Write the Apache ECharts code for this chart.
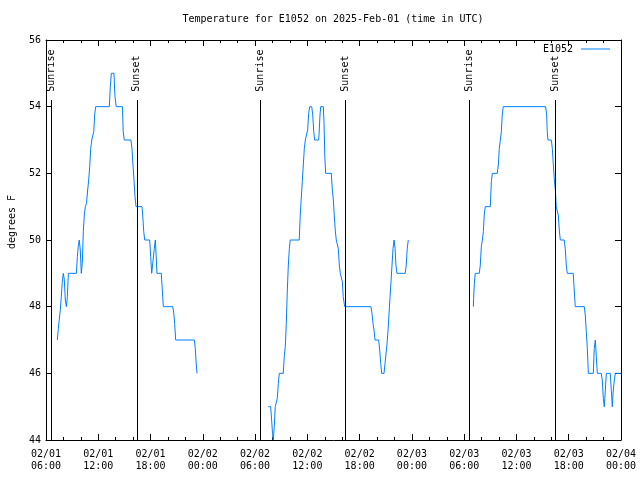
<!DOCTYPE html>
<html>
<head>
<meta charset="utf-8">
<script src="https://cdn.jsdelivr.net/npm/echarts@6/dist/echarts.min.js"></script>
<style>html,body{margin:0;padding:0;background:#fff;}#c{width:640px;height:480px;}</style>
</head>
<body>
<div id="c"></div>
<script>
// Hours are counted from 2025-02-01 00:00 UTC
const xTickHours = [6, 72, 6]; // min, max, interval
const yTicks = [44, 56, 2];

const day1Times = ['07:18','07:25','07:32','07:38','07:45','07:52','07:59','08:06','08:13','08:20','08:27','08:34','09:29','09:36','09:42','09:49','09:56','10:03','10:10','10:17','10:24','10:31','10:39','10:47','10:54','11:01','11:08','11:15','11:22','11:29','11:35','11:42','13:16','13:23','13:30','13:48','13:55','14:04','14:46','14:52','14:59','15:45','15:52','15:59','16:06','16:13','16:20','17:01','17:06','17:13','17:20','17:54','18:01','18:08','18:19','18:26','18:33','18:40','18:44','19:14','19:21','19:28','20:33','20:40','20:46','20:53','23:01','23:08','23:15','23:20'];
const day1Temps = [47,47.35,47.63,47.88,48.27,48.73,49,48.82,48.2,48,48.3,49,49,49.5,49.8,50,49.7,49,49.3,50.25,50.75,51,51.1,51.5,51.8,52.2,52.75,53,53,53.25,53.75,54,54,54.6,55,55,54.3,54,54,53.25,53,53,52.75,52.25,51.8,51.3,51,51,50.75,50.25,50,50,49.5,49,49,49.75,50,49.4,49,49,48.5,48,48,47.8,47.5,47,47,46.75,46.25,46];

const day2Times = ['07:31','07:47','07:54','08:00','08:05','08:12','08:19','08:27','08:33','08:40','08:47','09:14','09:21','09:28','09:35','09:42','09:49','09:56','10:02','11:04','11:11','11:18','11:25','11:32','11:39','11:46','11:55','12:02','12:09','12:16','12:30','12:37','12:44','12:50','13:18','13:22','13:27','13:32','13:50','13:55','14:00','14:06','14:45','14:52','14:59','15:05','15:12','15:19','15:26','15:33','15:40','15:47','15:54','16:01','16:07','16:17','19:18','19:25','19:32','19:39','19:46','20:11','20:18','20:25','20:32','20:48','20:55','21:02','21:08','21:15','21:22','21:29','21:36','21:43','21:50','21:57','22:04','22:10','22:17','23:14','23:21','23:28','23:35'];
const day2Temps = [45,45,44.6,44.2,44,44.4,45,45,45.25,45.7,46,46,46.5,46.8,47.5,48.5,49.25,49.75,50,50,50.75,51.25,51.75,52.25,52.75,53,53,53.3,53.8,54,54,53.75,53.25,53,53,53.3,53.75,54,54,53.5,52.5,52,52,51.5,51.2,50.75,50.3,50,50,49.75,49.25,49,49,48.75,48.3,48,48,47.8,47.5,47.3,47,47,46.7,46.3,46,46,46.3,46.6,46.85,47.25,47.75,48.25,48.75,49.25,49.75,50,49.75,49.25,49,49,49.25,49.75,50];

const day3Times = ['07:03','07:05','07:10','07:16','07:44','07:51','07:58','08:05','08:12','08:18','08:25','09:00','09:07','09:14','09:48','09:55','10:02','10:09','10:16','10:22','10:29','15:21','15:28','15:32','15:37','16:00','16:07','16:14','16:21','16:28','16:34','16:41','16:48','16:55','17:02','17:29','17:36','17:43','17:50','18:31','18:38','18:45','19:47','19:54','20:01','20:08','20:15','20:49','20:56','21:03','21:10','21:17','21:44','21:51','21:58','22:05','22:12','22:19','22:46','22:53','23:00','23:07','23:14','23:21','24:00'];
const day3Temps = [48,48.25,48.7,49,49,49.25,49.8,50,50.25,50.75,51,51,51.75,52,52,52.25,52.75,53,53.25,53.75,54,54,53.75,53.25,53,53,52.75,52.25,51.8,51.5,51,51,50.75,50.3,50,50,49.75,49.25,49,49,48.5,48,48,47.75,47.25,46.75,46,46,46.75,47,46.5,46,46,45.8,45.25,45,45.5,46,46,45.5,45,45.5,45.8,46,46];

const sunriseTimes = ['06:34','06:38','06:35'];
const sunsetTimes = ['16:25','16:24','16:30'];
const sunLineTop = 54.2;
const sunLabelBase = 54.42;

const FONT = 'DejaVu Sans Mono';

function toHours(dayIndex, hhmm) {
  const p = hhmm.split(':');
  return dayIndex * 24 + parseInt(p[0], 10) + parseInt(p[1], 10) / 60;
}
function seg(dayIndex, times, temps) {
  return times.map((t, i) => [toHours(dayIndex, t), temps[i]]);
}

const lineSeries = [[day1Times, day1Temps], [day2Times, day2Temps], [day3Times, day3Temps]].map((d, i) => ({
  name: 'E1052',
  type: 'line',
  xAxisIndex: 0, yAxisIndex: 0,
  data: seg(i, d[0], d[1]),
  symbol: 'none', showSymbol: false,
  lineStyle: { color: '#0080ff', width: 1 },
  itemStyle: { color: '#0080ff' },
  z: 3
}));

const sunEvents = [];
sunriseTimes.forEach((t, i) => sunEvents.push({ h: toHours(i, t), name: 'Sunrise' }));
sunsetTimes.forEach((t, i) => sunEvents.push({ h: toHours(i, t), name: 'Sunset' }));

const sunSeries = {
  name: 'sun',
  type: 'scatter',
  xAxisIndex: 0, yAxisIndex: 0,
  symbolSize: 0,
  silent: true,
  itemStyle: { opacity: 1, color: '#000' },
  data: sunEvents.map(e => [e.h, sunLabelBase, e.name]),
  label: {
    show: true,
    formatter: p => p.value[2],
    position: [0, 0],
    offset: [1, 0],
    rotate: 90,
    align: 'left',
    verticalAlign: 'middle',
    opacity: 1,
    fontFamily: FONT, fontSize: 10, color: '#000'
  },
  markLine: {
    silent: true,
    symbol: ['none', 'none'],
    animation: false,
    label: { show: false },
    lineStyle: { color: '#000', width: 1, type: 'solid', opacity: 1 },
    emphasis: { disabled: true },
    data: sunEvents.map(e => [{ coord: [e.h, yTicks[0]] }, { coord: [e.h, sunLineTop] }])
  },
  z: 2
};

function xLabel(v) {
  const day = 1 + Math.floor(v / 24);
  const hr = Math.round(v - (day - 1) * 24);
  const dd = (day < 10 ? '0' : '') + day;
  const hh = (hr < 10 ? '0' : '') + hr;
  return '02/' + dd + '\n' + hh + ':00';
}

const baseX = {
  type: 'value', min: xTickHours[0], max: xTickHours[1], interval: xTickHours[2],
  axisLine: { show: true, onZero: false, lineStyle: { color: '#000', width: 1 } },
  axisTick: { show: true, inside: true, length: 6, lineStyle: { color: '#000' } },
  minorTick: { show: true, splitNumber: 3, length: 3, lineStyle: { color: '#000' } },
  splitLine: { show: false }
};
const baseY = {
  type: 'value', min: yTicks[0], max: yTicks[1], interval: yTicks[2],
  axisLine: { show: true, onZero: false, lineStyle: { color: '#000', width: 1 } },
  axisTick: { show: true, inside: true, length: 6, lineStyle: { color: '#000' } },
  splitLine: { show: false }
};

const chart = echarts.init(document.getElementById('c'), null, { renderer: 'canvas' });
chart.setOption({
  animation: false,
  backgroundColor: '#fff',
  title: {
    text: 'Temperature for E1052 on 2025-Feb-01 (time in UTC)',
    left: 333, top: 14, textAlign: 'center', padding: 0,
    textStyle: { fontFamily: FONT, fontSize: 10, fontWeight: 'normal', color: '#000' }
  },
  legend: {
    data: [{ name: 'E1052', icon: 'rect' }],
    right: 30, top: 44, padding: 0,
    align: 'right', itemWidth: 29, itemHeight: 1, itemGap: 5,
    itemStyle: { color: '#0080ff' },
    textStyle: { fontFamily: FONT, fontSize: 10, color: '#000', padding: [0, 3, 0, 0] },
    selectedMode: false
  },
  grid: { left: 46, right: 19, top: 40, bottom: 40, containLabel: false },
  xAxis: [
    Object.assign({}, baseX, {
      position: 'bottom',
      axisLabel: { show: true, formatter: xLabel, margin: 8, fontFamily: FONT, fontSize: 10, lineHeight: 12, color: '#000', showMinLabel: true, showMaxLabel: true, hideOverlap: false }
    }),
    Object.assign({}, baseX, { position: 'top', axisLabel: { show: false } })
  ],
  yAxis: [
    Object.assign({}, baseY, {
      position: 'left',
      axisLabel: { show: true, margin: 5, fontFamily: FONT, fontSize: 10, color: '#000' }
    }),
    Object.assign({}, baseY, { position: 'right', axisLabel: { show: false } })
  ],
  graphic: [{
    type: 'text',
    x: 12, y: 222,
    rotation: Math.PI / 2,
    style: { text: 'degrees F', fill: '#000', font: '10px ' + FONT, textAlign: 'center', textVerticalAlign: 'middle', align: 'center', verticalAlign: 'middle' }
  }],
  series: lineSeries.concat([sunSeries])
});
</script>
</body>
</html>
